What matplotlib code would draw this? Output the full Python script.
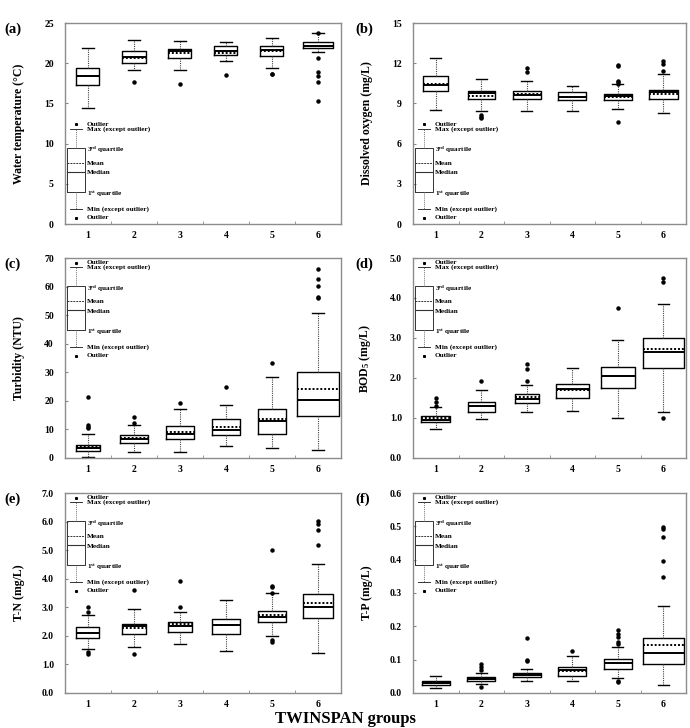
import matplotlib.pyplot as plt
import numpy as np

plt.rcParams['font.family'] = ['Liberation Serif', 'DejaVu Serif']
plt.rcParams['font.weight'] = 'bold'
plt.rcParams['mathtext.fontset'] = 'custom'
plt.rcParams['mathtext.rm'] = 'Liberation Serif:bold'
plt.rcParams['mathtext.it'] = 'Liberation Serif:bold'
plt.rcParams['mathtext.bf'] = 'Liberation Serif:bold'

groups = [1, 2, 3, 4, 5, 6]

# (a) water temperature
wt_lo = [14.4, 19.1, 19.2, 20.3, 19.4, 21.35]
wt_q1 = [17.3, 20.0, 20.7, 21.0, 20.9, 21.95]
wt_med = [18.4, 20.8, 21.5, 21.5, 21.6, 22.2]
wt_mean = [18.4, 20.7, 21.3, 21.3, 21.5, 22.1]
wt_q3 = [19.4, 21.5, 21.8, 22.1, 22.1, 22.6]
wt_hi = [21.9, 22.9, 22.8, 22.6, 23.1, 23.7]
wt_out = [[], [17.65], [17.4], [18.5], [18.6, 18.7],
          [23.75, 20.7, 18.85, 18.45, 17.7, 15.3]]

# (b) dissolved oxygen
do_lo = [8.5, 8.4, 8.47, 8.42, 8.6, 8.32]
do_q1 = [9.94, 9.34, 9.3, 9.22, 9.27, 9.32]
do_med = [10.4, 9.77, 9.6, 9.47, 9.52, 9.82]
do_mean = [10.45, 9.52, 9.7, 9.47, 9.5, 9.72]
do_q3 = [11.06, 9.9, 9.9, 9.82, 9.72, 10.0]
do_hi = [12.4, 10.84, 10.7, 10.32, 10.45, 11.2]
do_out = [[], [8.15, 8.02, 7.9], [11.64, 11.31], [],
          [11.9, 11.76, 10.69, 10.57, 10.47, 7.6], [12.19, 11.96, 11.39]]

# (c) turbidity
tb_lo = [0.35, 2.1, 2.1, 4.1, 3.4, 2.7]
tb_q1 = [2.6, 5.35, 6.7, 7.9, 8.5, 14.8]
tb_med = [3.5, 6.7, 8.4, 9.9, 13.1, 20.3]
tb_mean = [4.0, 7.0, 9.0, 11.0, 13.5, 24.0]
tb_q3 = [4.65, 7.9, 11.2, 13.7, 17.2, 30.2]
tb_hi = [8.4, 11.4, 17.0, 18.4, 28.3, 50.9]
tb_out = [[21.5, 11.6, 11.0, 10.4], [14.3, 12.2], [19.3], [24.8], [33.4],
          [66.0, 62.8, 60.1, 56.2, 56.0]]

# (d) BOD5
bod_lo = [0.73, 0.97, 1.16, 1.18, 1.01, 1.15]
bod_q1 = [0.9, 1.16, 1.38, 1.51, 1.76, 2.26]
bod_med = [0.96, 1.31, 1.48, 1.73, 2.05, 2.66]
bod_mean = [1.0, 1.31, 1.52, 1.69, 2.05, 2.73]
bod_q3 = [1.04, 1.41, 1.59, 1.86, 2.28, 3.01]
bod_hi = [1.27, 1.70, 1.83, 2.26, 2.95, 3.86]
bod_out = [[1.5, 1.4, 1.3], [1.93], [2.34, 2.23, 1.93], [], [3.74],
           [4.5, 4.39, 1.01]]

# (e) T-N
tn_lo = [1.53, 1.60, 1.71, 1.48, 1.98, 1.40]
tn_q1 = [1.92, 2.06, 2.15, 2.07, 2.48, 2.62]
tn_med = [2.09, 2.33, 2.36, 2.38, 2.67, 3.02]
tn_mean = [2.09, 2.28, 2.4, 2.38, 2.73, 3.14]
tn_q3 = [2.30, 2.42, 2.5, 2.59, 2.88, 3.45]
tn_hi = [2.73, 2.94, 2.85, 3.26, 3.49, 4.53]
tn_out = [[3.0, 2.83, 1.42, 1.37], [3.6, 1.37], [3.92, 3.0], [],
          [5.0, 3.76, 3.7, 3.49, 1.86, 1.78], [6.01, 5.9, 5.7, 5.17]]

# (f) T-P
tp_lo = [0.015, 0.028, 0.035, 0.037, 0.045, 0.023]
tp_q1 = [0.023, 0.037, 0.047, 0.05, 0.073, 0.088]
tp_med = [0.03, 0.043, 0.054, 0.07, 0.09, 0.12]
tp_mean = [0.03, 0.042, 0.056, 0.065, 0.09, 0.143]
tp_q3 = [0.035, 0.047, 0.06, 0.078, 0.102, 0.165]
tp_hi = [0.05, 0.06, 0.073, 0.11, 0.138, 0.262]
tp_out = [[], [0.087, 0.077, 0.068, 0.018], [0.165, 0.1, 0.095], [0.125],
          [0.19, 0.178, 0.167, 0.153, 0.147, 0.037, 0.033],
          [0.498, 0.492, 0.467, 0.397, 0.348]]

ylabels = ['Water temperature (\u00b0C)', 'Dissolved oxygen (mg/L)',
           'Turbidity (NTU)', 'BOD$_{5}$ (mg/L)', 'T-N (mg/L)', 'T-P (mg/L)']
letters = ['(a)', '(b)', '(c)', '(d)', '(e)', '(f)']
legend_texts = ['Outlier', 'Max (except outlier)', '3$^{rd}$ quartile', 'Mean',
                'Median', '1$^{st}$ quartile', 'Min (except outlier)', 'Outlier']


def make_stats(lo, q1, med, mean, q3, hi, out):
    stats = []
    for i in range(len(lo)):
        stats.append(dict(whislo=lo[i], q1=q1[i], med=med[i], mean=mean[i],
                          q3=q3[i], whishi=hi[i], fliers=np.array(out[i])))
    return stats


panels = [
    (make_stats(wt_lo, wt_q1, wt_med, wt_mean, wt_q3, wt_hi, wt_out), 25, 5, '%d', 'bottom',
     [0.50, 0.54, 0.50, 0.50, 0.50, 0.65]),
    (make_stats(do_lo, do_q1, do_med, do_mean, do_q3, do_hi, do_out), 15, 3, '%d', 'bottom',
     [0.55, 0.59, 0.61, 0.61, 0.61, 0.65]),
    (make_stats(tb_lo, tb_q1, tb_med, tb_mean, tb_q3, tb_hi, tb_out), 70, 10, '%d', 'top',
     [0.52, 0.61, 0.61, 0.61, 0.61, 0.91]),
    (make_stats(bod_lo, bod_q1, bod_med, bod_mean, bod_q3, bod_hi, bod_out), 5, 1, '%.1f', 'top',
     [0.63, 0.59, 0.54, 0.72, 0.74, 0.91]),
    (make_stats(tn_lo, tn_q1, tn_med, tn_mean, tn_q3, tn_hi, tn_out), 7, 1, '%.1f', 'top',
     [0.50, 0.52, 0.52, 0.59, 0.59, 0.65]),
    (make_stats(tp_lo, tp_q1, tp_med, tp_mean, tp_q3, tp_hi, tp_out), 0.6, 0.1, '%.1f', 'top',
     [0.61, 0.61, 0.61, 0.61, 0.61, 0.91]),
]

# axes boxes in figure fractions
lefts = [0.0942, 0.5986]
widths_ax = [0.400, 0.3957]
bottoms = [0.6923, 0.3709, 0.0481]
heights = [0.2761, 0.2747, 0.2747]

# schematic legend levels (axes fraction) for the bottom placement
leg_frac = [0.030, 0.075, 0.159, 0.259, 0.303, 0.378, 0.473, 0.497]

fig = plt.figure(figsize=(6.9, 7.28), dpi=100)

for k, (stats, ymax, ystep, fmt, legpos, bw) in enumerate(panels):
    row, col = k // 2, k % 2
    ax = fig.add_axes([lefts[col], bottoms[row], widths_ax[col], heights[row]])

    ax.bxp(stats, positions=groups, widths=bw, showmeans=True, meanline=True,
           capwidths=0.25, manage_ticks=False,
           boxprops=dict(color='black', linewidth=1.0),
           medianprops=dict(color='black', linewidth=1.4),
           meanprops=dict(color='black', linewidth=1.4, linestyle=(0, (1, 1))),
           whiskerprops=dict(color='#444444', linewidth=0.8, linestyle=(0, (1, 1))),
           capprops=dict(color='black', linewidth=1.0),
           flierprops=dict(marker='o', markersize=2.2, markerfacecolor='black',
                           markeredgecolor='black'))

    # schematic legend box
    off = 0.0 if legpos == 'bottom' else 0.48
    f = [v + off for v in leg_frac]
    yv = [v * ymax for v in f]
    leg = [dict(whislo=yv[1], q1=yv[2], med=yv[3], mean=yv[4], q3=yv[5],
                whishi=yv[6], fliers=np.array([yv[0], yv[7]]))]
    ax.bxp(leg, positions=[0.74], widths=0.40, showmeans=True, meanline=True,
           capwidths=0.28, manage_ticks=False,
           boxprops=dict(color='#333333', linewidth=0.7),
           medianprops=dict(color='#333333', linewidth=0.8),
           meanprops=dict(color='#333333', linewidth=0.7, linestyle=(0, (2, 1))),
           whiskerprops=dict(color='#777777', linewidth=0.7, linestyle=(0, (1, 1))),
           capprops=dict(color='#333333', linewidth=0.7),
           flierprops=dict(marker='s', markersize=1.2, markerfacecolor='black',
                           markeredgecolor='black'))
    text_y = [yv[7], yv[6], yv[5] - 0.01 * ymax, yv[4], yv[3] - 0.005 * ymax,
              yv[2] - 0.01 * ymax, yv[1], yv[0]]
    for t, y in zip(legend_texts, text_y):
        ax.text(0.98, y, t, fontsize=5.2, fontweight='bold', va='center', ha='left')

    ax.set_xlim(0.5, 6.5)
    ax.set_ylim(0, ymax)
    ax.set_xticks(groups)
    ax.set_xticks([1.5, 2.5, 3.5, 4.5, 5.5], minor=True)
    ax.set_yticks(np.arange(0, ymax + ystep / 2, ystep))
    ax.yaxis.set_major_formatter(plt.FormatStrFormatter(fmt))
    ax.tick_params(axis='x', which='major', length=0, pad=5, labelsize=7)
    ax.tick_params(axis='x', which='minor', direction='in', length=2.5, color='#888888')
    ax.tick_params(axis='y', direction='in', length=2.5, color='#888888', pad=8, labelsize=7)
    for lab in ax.get_xticklabels() + ax.get_yticklabels():
        lab.set_fontweight('bold')
    for s in ax.spines.values():
        s.set_color('#8c8c8c')
        s.set_linewidth(1.0)

    ax.set_ylabel(ylabels[k], fontsize=8.5, fontweight='bold')
    ax.yaxis.set_label_coords(-0.145, 0.5)

    ax.text(-0.22 if col == 0 else -0.21, 0.97, letters[k], transform=ax.transAxes,
            fontsize=10.5, fontweight='bold', ha='left', va='center')

fig.text(0.5, 0.002, 'TWINSPAN groups', fontsize=12, fontweight='bold',
         ha='center', va='bottom')

fig.savefig('out.png', dpi=100)
